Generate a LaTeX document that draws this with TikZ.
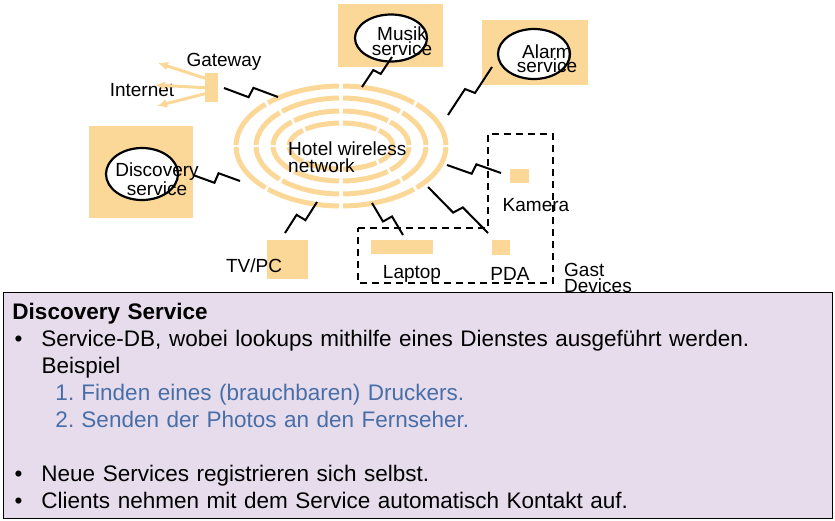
\documentclass[tikz,border=0pt]{standalone}
\usepackage{fontspec}
\setmainfont{Liberation Sans}
\usepackage{tikz}
\usetikzlibrary{positioning, calc, arrows.meta, shapes.geometric}
\usepackage{xcolor}
\definecolor{tan}{RGB}{252,216,152}
\definecolor{lilac}{RGB}{231,220,236}
\definecolor{stepblue}{RGB}{72,110,168}

\begin{document}
\begin{tikzpicture}[x=1pt, y=-1pt, font=\fontsize{19}{16}\selectfont,
  dev/.style={rectangle, fill=tan, inner sep=0pt, anchor=north west},
  srv/.style={ellipse, draw=black, line width=2.2pt, fill=white, inner sep=0pt},
  lbl/.style={inner sep=0pt, align=center},
  ring/.style={draw=tan, line width=5pt},
  bolt/.style={line width=2pt, to path={-- ($(\tikztostart)!0.47!(\tikztotarget)!#1!90:(\tikztotarget)$) -- ($(\tikztostart)!0.53!(\tikztotarget)!#1!-90:(\tikztotarget)$) -- (\tikztotarget)}},
  bolt/.default=5pt,
  uplink/.style={draw=tan, line width=3pt, -{Latex[length=10pt, width=9pt]}}]
%
\useasboundingbox (0,0) rectangle (835,520);

%help grid
%\draw[help lines, step=50] (0,0) grid (835,520);

%%% HOTEL NETWORK
\coordinate (hub) at (341,146);
\foreach \rx/\ry/\g in {105/60/1, 85/48/1.2, 68/35/1.5, 52/23/2}
  \foreach \a in {0,45,...,315}
    \draw [ring] ($(hub)+(\a+\g:\rx pt and \ry pt)$) arc [start angle=\a+\g, end angle=\a+45-\g, x radius=\rx pt, y radius=\ry pt];
\node [lbl, align=left, anchor=west, font=\fontsize{19}{17}\selectfont] (hotel) at (288,157) {Hotel wireless\\network};

%%% SERVICES
\node [dev, minimum width=105pt, minimum height=63pt] (musik-box) at (338,4) {};
\node [srv, minimum width=72pt, minimum height=47pt] (musik) at (391,38) {};
\node [lbl, font=\fontsize{19}{13}\selectfont] (musik-txt) at (402,41) {Musik\\service};

\node [dev, minimum width=106pt, minimum height=65pt] (alarm-box) at (482,20) {};
\node [srv, minimum width=72pt, minimum height=50pt] (alarm) at (534,54) {};
\node [lbl, font=\fontsize{19}{14}\selectfont] (alarm-txt) at (547,59) {Alarm\\service};

\node [dev, minimum width=104pt, minimum height=92pt] (disc-box) at (89,126) {};
\node [srv, minimum width=72pt, minimum height=52pt] (disc) at (142,174) {};
\node [lbl, font=\fontsize{19}{13}\selectfont] (disc-txt) at (157,179) {Discovery\\service};

%%% GATEWAY
\node [dev, minimum width=13pt, minimum height=29pt] (gw) at (205,73) {};
\node [lbl] (gw-txt) at (224,62) {Gateway};
\node [lbl] (inet) at (142,90) {Internet};
\coordinate (inet-1) at (158,63);
\coordinate (inet-2) at (155,85);
\coordinate (inet-3) at (157,106);
\draw [uplink] ([yshift=9.5pt]gw.west) -- (inet-1);
\draw [uplink] (gw.west) -- (inet-2);
\draw [uplink] ([yshift=-6pt]gw.west) -- (inet-3);

%%% DEVICES
\node [dev, minimum width=41pt, minimum height=39pt] (tv) at (267,240) {};
\node [lbl] (tv-txt) at (254,266) {TV/PC};
\node [dev, minimum width=19pt, minimum height=14pt] (cam) at (510,169) {};
\node [lbl] (cam-txt) at (536,205) {Kamera};
\node [dev, minimum width=62pt, minimum height=14pt] (laptop) at (371,240) {};
\node [lbl] (laptop-txt) at (412,274) {Laptop};
\node [dev, minimum width=18pt, minimum height=15pt] (pda) at (492,240) {};
\node [lbl] (pda-txt) at (510,274) {PDA};

\draw [dashed, line width=1.6pt, dash pattern=on 7pt off 5pt] (358,228) -- (488,228) -- (488,134) -- (553,134) -- (553,283) -- (358,283) -- cycle;
\node [lbl, align=left, anchor=west, font=\fontsize{19}{16}\selectfont] (gast) at (564,278) {Gast\\Devices};

%%% connections, bolts
\coordinate (gw-e) at (224,88);   \coordinate (gw-r) at (278,97);
\coordinate (musik-e) at (392,57); \coordinate (musik-r) at (362,87);
\coordinate (alarm-e) at (492,67); \coordinate (alarm-r) at (448,115);
\coordinate (disc-e) at (193,175); \coordinate (disc-r) at (240,181);
\coordinate (tv-e) at (285,233);   \coordinate (tv-r) at (317,202);
\coordinate (laptop-e) at (403,235); \coordinate (laptop-r) at (372,203);
\coordinate (pda-e) at (488,233);  \coordinate (pda-r) at (428,187);
\coordinate (cam-e) at (501,173);  \coordinate (cam-r) at (447,165);

\draw [bolt=-5pt] (gw-e) to (gw-r);
\draw [bolt=4pt] (musik-r) to (musik-e);
\draw [bolt] (alarm-r) to (alarm-e);
\draw [bolt=-5pt] (disc-e) to (disc-r);
\draw [bolt] (tv-e) to (tv-r);
\draw [bolt=-5pt] (laptop-r) to (laptop-e);
\draw [bolt=-5pt] (pda-r) to (pda-e);
\draw [bolt=-5pt] (cam-r) to (cam-e);

%%% DISCOVERY SERVICE TEXT
\node [rectangle, draw=black, line width=1pt, fill=lilac, anchor=north west, minimum width=829pt, minimum height=226pt, text width=811pt, inner xsep=9pt, inner ysep=0pt, align=left, font=\fontsize{22.5}{27}\selectfont] (info) at (3,292) {{\bfseries Discovery Service}\\
\hspace*{2pt}\makebox[27pt][l]{\textbullet}Service-DB, wobei lookups mithilfe eines Dienstes ausgeführt werden.\\
\hspace*{29pt}Beispiel\\
\hspace*{43pt}{\color{stepblue}\makebox[26pt][l]{1.}Finden eines (brauchbaren) Druckers.}\\
\hspace*{43pt}{\color{stepblue}\makebox[26pt][l]{2.}Senden der Photos an den Fernseher.}\\[27pt]
\hspace*{2pt}\makebox[27pt][l]{\textbullet}Neue Services registrieren sich selbst.\\
\hspace*{2pt}\makebox[27pt][l]{\textbullet}Clients nehmen mit dem Service automatisch Kontakt auf.};

\end{tikzpicture}
\end{document}
